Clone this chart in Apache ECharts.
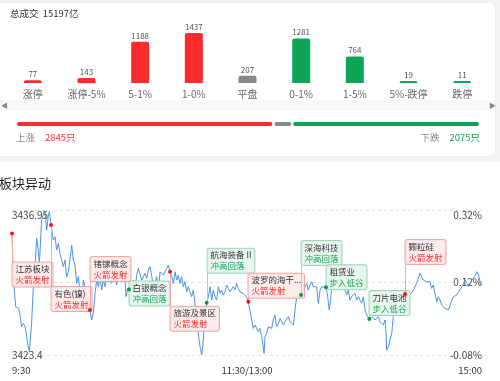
<!DOCTYPE html>
<html><head><meta charset="utf-8">
<script src="https://cdn.jsdelivr.net/npm/echarts@6/dist/echarts.min.js"></script>
<style>html,body{margin:0;padding:0;background:#fff}#c{width:500px;height:381px}</style>
</head><body><div id="c"></div>
<script>
const FONT = '"Noto Sans CJK SC","Noto Sans",sans-serif';

// ---- distribution (top) ----
const distCategories = ['涨停','涨停-5%','5-1%','1-0%','平盘','0-1%','1-5%','5%-跌停','跌停'];
const distValues = [77,143,1188,1437,207,1281,764,19,11];
const distKinds = ['up','up','up','up','flat','down','down','down','down'];
const totalTurnover = '15197亿';

// ---- index intraday line (bottom) ----
const minutes = [0,0.7,1.9,2.7,3.4,4.1,4.9,5.8,6.6,7.5,8.3,8.9,10.0,10.9,11.7,12.6,13.4,14.0,14.6,15.1,16.0,16.9,17.2,17.7,18.6,19.1,19.4,19.9,20.6,21.1,22.0,22.8,23.7,24.5,25.4,26.2,27.1,27.9,28.8,29.6,30.5,31.0,31.3,32.2,33.0,33.9,34.7,35.6,36.4,37.3,38.1,39.0,39.8,40.7,41.5,42.4,43.2,44.1,44.9,45.8,46.6,47.5,48.3,49.2,50.0,50.9,51.7,52.6,53.4,54.3,55.1,56.0,56.9,57.7,58.2,59.1,59.7,
61.1,62.0,62.8,63.7,64.5,65.4,66.2,67.1,67.9,68.8,69.6,70.5,71.4,72.2,73.0,73.9,74.7,75.6,76.4,77.3,78.1,79.0,79.8,80.7,81.6,82.4,83.3,84.1,84.9,85.8,86.6,87.5,88.3,89.2,90.0,90.9,91.7,92.6,93.4,94.3,95.1,96.0,96.9,97.7,98.6,99.4,100.3,101.1,102.0,102.8,103.7,104.5,105.4,106.2,107.1,107.9,108.8,109.6,110.5,111.3,112.2,113.0,113.9,114.7,115.6,116.4,117.3,118.1,119.0,119.8,120.7,
121.5,122.4,123.2,124.1,124.9,125.8,126.6,127.5,128.3,128.7,129.2,130.0,130.9,131.7,132.6,133.4,134.3,135.1,136.0,136.9,137.7,138.6,139.4,140.3,141.1,142.0,142.8,143.7,144.5,145.4,146.2,147.6,148.8,149.6,150.5,151.3,152.2,153.0,153.9,154.7,155.6,156.4,157.3,158.1,159.0,160.3,161.0,162.0,162.7,163.4,164.1,165.0,165.8,166.6,167.5,168.3,169.2,170.0,170.9,171.7,172.6,173.4,174.3,175.1,176.0,176.9,177.7,178.6,179.4,180.3,181.1,182.5,
183.7,184.5,185.4,186.2,187.1,187.9,188.8,189.6,190.5,191.0,191.3,192.2,193.0,193.9,194.7,195.6,196.4,197.3,198.1,199.0,199.8,200.7,201.5,202.4,203.2,204.1,205.0,205.8,206.6,207.5,208.3,209.2,210.0,210.9,211.7,212.6,213.4,214.3,215.1,216.0,216.9,217.7,218.6,219.4,220.3,221.1,222.0,222.9,223.7,224.6,225.4,226.3,227.1,228.0,228.9,229.7,230.6,231.4,232.3,233.1,234.0,234.9,235.7,236.6,237.4,238.3,238.8,239.1];
const prices = [3434.76,3430.40,3427.91,3428.07,3427.76,3427.13,3426.04,3426.35,3426.11,3425.11,3424.17,3423.71,3426.35,3429.78,3431.65,3434.30,3433.21,3431.96,3434.14,3436.01,3436.48,3436.80,3436.95,3435.08,3436.48,3436.79,3436.32,3435.54,3434.76,3434.14,3434.45,3433.21,3433.83,3432.90,3433.05,3431.65,3432.27,3430.72,3431.18,3431.34,3433.67,3433.83,3432.27,3431.81,3430.09,3430.72,3429.31,3428.53,3430.40,3429.78,3429.16,3428.53,3427.60,3426.67,3427.29,3429.16,3430.40,3429.78,3430.72,3429.47,3430.40,3429.78,3431.34,3430.40,3430.25,3430.09,3430.40,3430.72,3429.94,3429.94,3431.18,3431.65,3431.18,3430.40,3428.85,3429.63,3429.53,
3429.94,3430.40,3429.47,3430.87,3431.49,3431.65,3430.40,3430.25,3431.03,3430.56,3431.34,3431.65,3430.72,3429.78,3430.09,3430.72,3429.47,3431.18,3431.34,3430.87,3431.18,3431.49,3431.81,3431.18,3430.72,3430.09,3431.18,3430.40,3430.87,3430.09,3430.72,3429.78,3430.25,3429.31,3429.78,3429.31,3428.85,3429.47,3428.22,3426.98,3425.42,3424.17,3423.40,3424.80,3426.98,3428.29,3428.85,3429.78,3428.53,3429.47,3428.85,3428.53,3429.78,3429.16,3429.47,3429.00,3429.31,3429.94,3429.63,3429.31,3429.16,3429.78,3429.47,3430.09,3429.63,3429.31,3429.47,3429.16,3429.00,3428.85,3428.38,
3428.22,3426.67,3425.89,3426.20,3426.04,3425.58,3425.89,3425.11,3424.17,3423.55,3425.11,3425.42,3426.04,3426.20,3425.89,3426.67,3427.13,3426.04,3426.35,3426.82,3426.98,3426.20,3426.51,3426.67,3426.98,3426.51,3426.35,3426.20,3427.60,3428.85,3428.85,3429.00,3429.47,3429.63,3430.09,3429.47,3429.94,3430.25,3429.78,3429.63,3429.78,3428.22,3429.47,3429.78,3429.78,3429.72,3429.16,3427.60,3428.53,3430.09,3430.40,3431.34,3431.49,3431.18,3431.18,3430.40,3429.78,3429.47,3429.00,3429.47,3428.53,3428.85,3428.85,3429.16,3428.53,3428.85,3428.53,3428.22,3428.85,3427.60,3427.13,3426.76,
3426.98,3427.13,3426.67,3426.82,3426.98,3426.51,3426.35,3426.20,3426.67,3425.42,3423.86,3424.17,3424.80,3425.42,3426.98,3428.53,3428.85,3429.00,3429.00,3429.00,3429.16,3429.10,3428.85,3428.85,3429.00,3429.00,3429.47,3429.63,3430.09,3430.56,3431.03,3430.87,3430.40,3430.56,3430.25,3430.40,3430.25,3429.63,3429.94,3429.16,3428.38,3428.85,3428.53,3428.07,3427.91,3427.76,3427.60,3427.60,3427.76,3428.53,3428.85,3429.00,3429.00,3429.31,3429.47,3429.78,3429.94,3430.40,3430.09,3429.78,3430.09,3430.40,3430.25,3430.87,3431.18,3430.87,3430.40,3429.94];
const priceMin = 3423.4, priceMax = 3436.95;
const priceTicks = ['3423.4','3430.17','3436.95'];
const pctTicks = ['-0.08%','0.12%','0.32%'];
const timeTicks = ['9:30','11:30/13:00','15:00'];

// ---- sector events ----
const eventNames = ['江苏板块','有色(镍)','锗镓概念','白银概念','旅游及景区','航海装备 II','波罗的海干...','深海科技','租赁业','刀片电池','颗粒硅'];
const eventTags = ['火箭发射','火箭发射','火箭发射','冲高回落','火箭发射','冲高回落','火箭发射','冲高回落','步入低谷','步入低谷','火箭发射'];
const eventKinds = ['up','up','up','down','up','down','up','down','down','down','up'];
const eventMinutes = [0,19.9,39.8,59.7,80.7,99.4,120.7,147.6,160.3,182.5,200.7];

// layout (pixel offset of each label box top from its point)
const boxOffsetY = [29,62,-53,-8,35,-54,-28,-54,-22,-28,-54];

const RED = '#fd2c2c', GREEN = '#0ea55b', GRAY = '#888888';
const kindColor = k => k === 'up' ? RED : (k === 'down' ? GREEN : GRAY);
const upCount = distValues.filter((v,i)=>distKinds[i]==='up').reduce((a,b)=>a+b,0);
const flatCount = distValues.filter((v,i)=>distKinds[i]==='flat').reduce((a,b)=>a+b,0);
const downCount = distValues.filter((v,i)=>distKinds[i]==='down').reduce((a,b)=>a+b,0);
const totalCount = upCount + flatCount + downCount;

const chart = echarts.init(document.getElementById('c'), null, {renderer:'canvas'});
const eventData = eventMinutes.map((m,i)=>[m, prices[minutes.indexOf(m)], i]);

const option = {
  animation:false,
  textStyle:{fontFamily:FONT},
  graphic:[
    {type:'rect', z:-10, shape:{x:0,y:0,width:500,height:162}, style:{fill:'#f4f4f4'}, silent:true},
    {type:'rect', z:-9, shape:{x:-8,y:3,width:503,height:153,r:6}, style:{fill:'#ffffff', shadowBlur:3, shadowColor:'rgba(0,0,0,0.06)'}, silent:true},
    {type:'rect', z:-8, shape:{x:0,y:100,width:495,height:11}, style:{fill:'#f8f8f8'}, silent:true},
    {type:'text', z:5, x:1, y:105, style:{text:'◀', fill:'#888', font:'7px '+FONT, verticalAlign:'middle'}},
    {type:'text', z:5, x:489, y:105, style:{text:'▶', fill:'#888', font:'7px '+FONT, verticalAlign:'middle'}},
    {type:'text', z:5, x:10, y:13, style:{text:'总成交  '+totalTurnover, fill:'#333', font:'9.5px '+FONT, verticalAlign:'middle'}},
    {type:'text', z:5, x:16, y:137, style:{text:'{a|上涨}   {b|'+upCount+'只}', rich:{a:{fill:'#8a8a8a', font:'9.5px '+FONT}, b:{fill:RED, font:'9.5px '+FONT}}, verticalAlign:'middle'}},
    {type:'text', z:5, x:480, y:137, style:{text:'{a|下跌}   {b|'+downCount+'只}', rich:{a:{fill:'#8a8a8a', font:'9.5px '+FONT}, b:{fill:GREEN, font:'9.5px '+FONT}}, align:'right', verticalAlign:'middle'}},
    {type:'text', z:5, x:-1, y:183, style:{text:'板块异动', fill:'#222', font:'13px '+FONT, verticalAlign:'middle'}}
  ],
  grid:[
    {left:6, right:11, top:33, height:50},
    {left:16, right:20, top:121, height:6},
    {left:12, right:18, top:210, height:145}
  ],
  xAxis:[
    {gridIndex:0, type:'category', data:distCategories, axisLine:{show:false}, axisTick:{show:false}, splitLine:{show:false},
     axisLabel:{interval:0, color:'#666', fontSize:10, margin:6, fontFamily:FONT}},
    {gridIndex:1, type:'value', min:0, max:totalCount, show:false},
    {gridIndex:2, type:'value', min:0, max:240, interval:120, axisLine:{show:false}, axisTick:{show:false}, splitLine:{show:false},
     axisLabel:{formatter:v=>timeTicks[Math.round(v/120)], alignMinLabel:'left', alignMaxLabel:'right', fontSize:9.5, color:'#333', margin:11, fontFamily:FONT}}
  ],
  yAxis:[
    {gridIndex:0, type:'value', min:0, max:'dataMax', show:false},
    {gridIndex:1, type:'category', data:['ratio'], show:false},
    {gridIndex:2, type:'value', min:priceMin, max:priceMax, show:false},
    {gridIndex:2, type:'value', position:'left', min:0, max:2, interval:1, axisLine:{show:false}, axisTick:{show:false},
     splitLine:{show:true, lineStyle:{color:'#e4e4e4', type:[3,3], width:1}},
     axisLabel:{inside:true, margin:0, formatter:v=>priceTicks[Math.round(v)], color:'#444', fontSize:10, fontFamily:FONT, verticalAlignMaxLabel:'top', verticalAlignMinLabel:'middle'}},
    {gridIndex:2, type:'value', position:'right', min:0, max:2, interval:1, axisLine:{show:false}, axisTick:{show:false}, splitLine:{show:false},
     axisLabel:{inside:true, margin:0, formatter:v=>pctTicks[Math.round(v)], color:'#444', fontSize:10, fontFamily:FONT, verticalAlignMaxLabel:'top', verticalAlignMinLabel:'middle'}}
  ],
  series:[
    {type:'bar', xAxisIndex:0, yAxisIndex:0, barWidth:18, barMinHeight:2,
     data:distValues.map((v,i)=>({value:v, itemStyle:{color:kindColor(distKinds[i])}})),
     itemStyle:{borderRadius:[2,2,0,0]},
     label:{show:true, position:'top', distance:2, color:'#555', fontSize:8, fontFamily:FONT}},
    {type:'bar', xAxisIndex:1, yAxisIndex:1, stack:'r', barWidth:6, data:[upCount], itemStyle:{color:RED, borderRadius:3, borderColor:'#fff', borderWidth:1}},
    {type:'bar', xAxisIndex:1, yAxisIndex:1, stack:'r', barWidth:6, data:[flatCount], itemStyle:{color:GRAY, borderRadius:3, borderColor:'#fff', borderWidth:1}},
    {type:'bar', xAxisIndex:1, yAxisIndex:1, stack:'r', barWidth:6, data:[downCount], itemStyle:{color:GREEN, borderRadius:3, borderColor:'#fff', borderWidth:1}},
    {type:'line', xAxisIndex:2, yAxisIndex:2, data:minutes.map((m,i)=>[m,prices[i]]), showSymbol:false, symbol:'none',
     lineStyle:{color:'#4a93e8', width:1}, z:3},
    {type:'custom', xAxisIndex:2, yAxisIndex:2, data:eventData, z:5, clip:false,
     renderItem:(params, api)=>{
       const i = api.value(2);
       const pt = api.coord([api.value(0), api.value(1)]);
       const up = eventKinds[i] === 'up';
       const c = up ? RED : '#12a35a';
       const bg = up ? 'rgba(253,233,233,0.88)' : 'rgba(229,245,236,0.88)';
       const bd = up ? '#f2a7a7' : '#9fd6b6';
       const dy = boxOffsetY[i];
       const h = 24;
       const x = Math.round(pt[0]) + 0.5;
       const children = [];
       if (dy > 0) children.push({type:'line', shape:{x1:x,y1:pt[1],x2:x,y2:pt[1]+dy}, style:{stroke:bd, lineWidth:1}});
       else if (dy + h < 0) children.push({type:'line', shape:{x1:x,y1:pt[1]+dy+h,x2:x,y2:pt[1]}, style:{stroke:bd, lineWidth:1}});
       children.push({type:'text', x:x, y:pt[1]+dy, style:{
         text:'{a|'+eventNames[i]+'}\n{b|'+eventTags[i]+'}',
         rich:{a:{fill:'#333', fontSize:8.5, lineHeight:11, fontFamily:FONT}, b:{fill:c, fontSize:8.5, lineHeight:11, fontFamily:FONT}},
         align:'left', verticalAlign:'top', backgroundColor:bg, borderColor:bd, borderWidth:1, borderRadius:2, padding:[1,3,1,3]}});
       children.push({type:'circle', shape:{cx:pt[0], cy:pt[1], r:2}, style:{fill:up ? '#ff1010' : '#0b9a4a'}});
       return {type:'group', children};
     }}
  ]
};
chart.setOption(option);
</script></body></html>
